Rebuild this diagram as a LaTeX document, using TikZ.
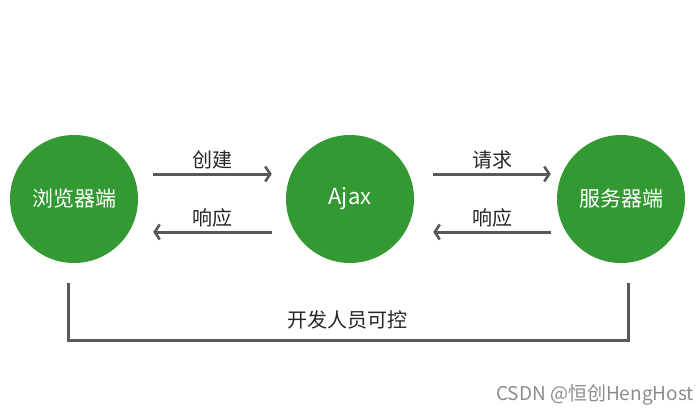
\documentclass[tikz,border=0pt]{standalone}
\usepackage{fontspec}
\setmainfont{Noto Sans CJK SC}
\usetikzlibrary{arrows.meta,positioning}

\definecolor{verde}{RGB}{51,153,51}
\definecolor{gris}{RGB}{89,89,89}

\tikzset{
  nodo/.style={circle, fill=verde, minimum size=128pt, inner sep=0pt,
    text=white, font=\fontsize{21}{21}\selectfont},
  flecha/.style={draw=gris, line width=3pt,
    -{Straight Barb[length=5pt,width=15pt,line width=2.6pt]}},
  etiqueta/.style={text=black!85, font=\fontsize{20}{20}\selectfont},
}

\begin{document}
\begin{tikzpicture}[x=1pt,y=-1pt]
        % Paso 1: Fija el marco del dibujo
        \useasboundingbox (0,0) rectangle (700,415);

        % Paso 2: Dibuja los tres nodos circulares
        \node[nodo] (navegador) at (74,199) {浏览器端};
        \node[nodo, font=\fontsize{22}{22}\selectfont] (ajax) at (350,199) {Ajax};
        \node[nodo] (servidor) at (621,199) {服务器端};

        % Paso 3: Flechas entre navegador y Ajax
        \draw[flecha] ([xshift=15pt,yshift=25pt]navegador.east)
            -- node[etiqueta, above=0pt] (crear) {创建}
            ([xshift=-14pt,yshift=25pt]ajax.west);
        \draw[flecha] ([xshift=-14pt,yshift=-33pt]ajax.west)
            -- node[etiqueta, above=0pt] (resp1) {响应}
            ([xshift=15pt,yshift=-33pt]navegador.east);

        % Paso 4: Flechas entre Ajax y servidor
        \draw[flecha] ([xshift=19pt,yshift=25pt]ajax.east)
            -- node[etiqueta, above=0pt] (pedir) {请求}
            ([xshift=-6pt,yshift=25pt]servidor.west);
        \draw[flecha] ([xshift=-6pt,yshift=-33pt]servidor.west)
            -- node[etiqueta, above=0pt] (resp2) {响应}
            ([xshift=19pt,yshift=-33pt]ajax.east);

        % Paso 5: Corchete inferior con su texto
        \draw[draw=gris, line width=3pt]
            ([xshift=-6pt,yshift=-20pt]navegador.south) -- ++(0,57)
            -| ([xshift=7pt,yshift=-20pt]servidor.south);
        \node[etiqueta] (control) at (347,320) {开发人员可控};

        % Paso 6: Marca de agua
        \node[anchor=east, text=black!45, inner sep=0pt,
            font=\fontsize{19}{19}\selectfont] (marca) at (694,395)
            {CSDN @恒创HengHost};
    \end{tikzpicture}
\end{document}
